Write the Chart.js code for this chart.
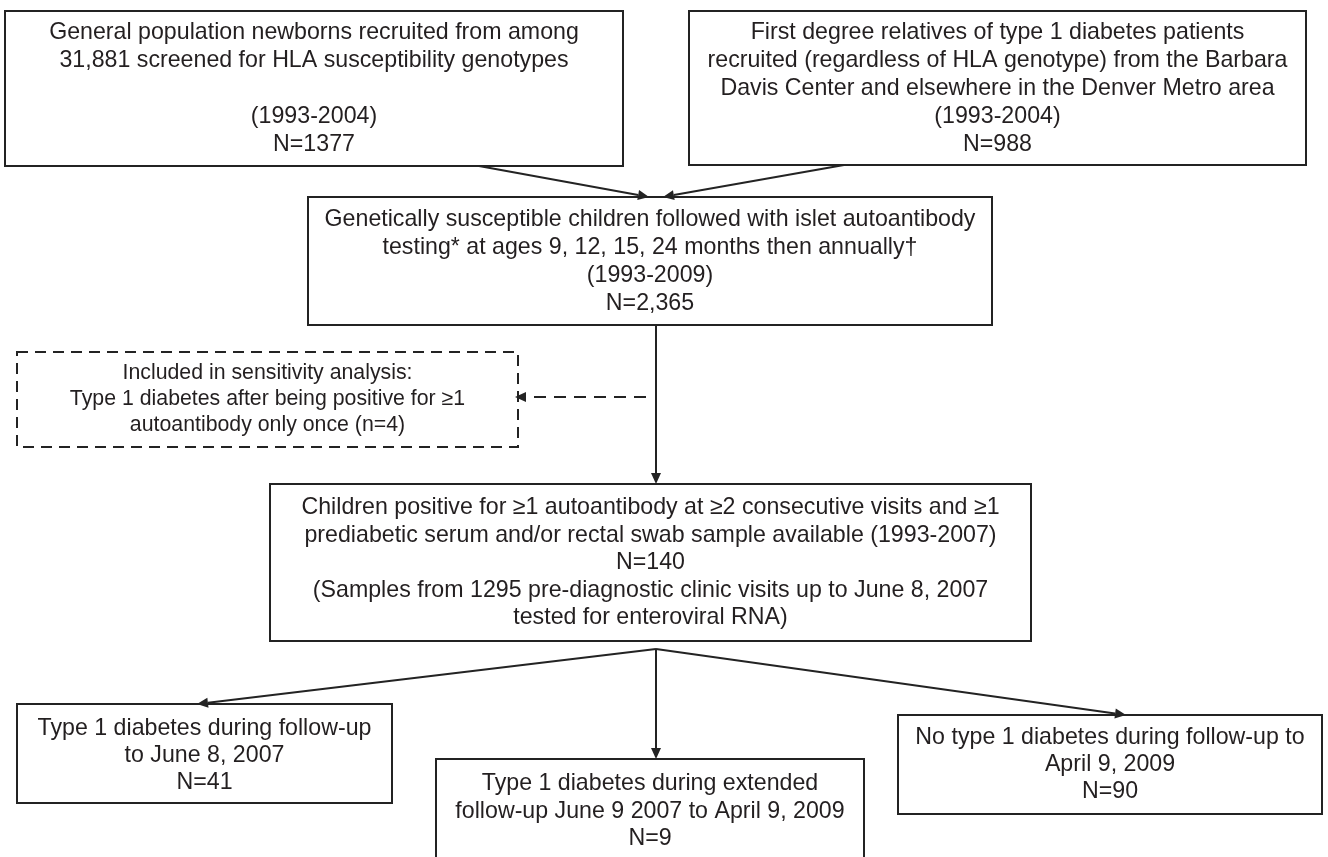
<!DOCTYPE html>
<html>
<head>
<meta charset="utf-8">
<script src="https://cdn.jsdelivr.net/npm/chart.js@4.4.1/dist/chart.umd.min.js"></script>
<style>
  html, body { margin: 0; padding: 0; background: #ffffff; }
  #wrap { width: 1328px; height: 857px; position: relative; }
</style>
</head>
<body>
<div id="wrap"><canvas id="c" width="1328" height="857"></canvas></div>
<script>
// ---- DATA ----
const nodeIds = ['general', 'relatives', 'followed', 'sensitivity', 'positive', 't1d', 't1dExtended', 'noT1d'];
const counts = [1377, 988, 2365, 4, 140, 41, 9, 90];
const countUsesComma = [false, false, true, false, false, false, false, false];

const textGeneral = ['General population newborns recruited from among', '31,881 screened for HLA susceptibility genotypes', '', '(1993-2004)', 'N={n}'];
const textRelatives = ['First degree relatives of type 1 diabetes patients', 'recruited (regardless of HLA genotype) from the Barbara', 'Davis Center and elsewhere in the Denver Metro area', '(1993-2004)', 'N={n}'];
const textFollowed = ['Genetically susceptible children followed with islet autoantibody', 'testing* at ages 9, 12, 15, 24 months then annually\u2020', '(1993-2009)', 'N={n}'];
const textSensitivity = ['Included in sensitivity analysis:', 'Type 1 diabetes after being positive for \u22651', 'autoantibody only once (n={n})'];
const textPositive = ['Children positive for \u22651 autoantibody at \u22652 consecutive visits and \u22651', 'prediabetic serum and/or rectal swab sample available (1993-2007)', 'N={n}', '(Samples from 1295 pre-diagnostic clinic visits up to June 8, 2007', 'tested for enteroviral RNA)'];
const textT1d = ['Type 1 diabetes during follow-up', 'to June 8, 2007', 'N={n}'];
const textT1dExtended = ['Type 1 diabetes during extended', 'follow-up June 9 2007 to April 9, 2009', 'N={n}'];
const textNoT1d = ['No type 1 diabetes during follow-up to', 'April 9, 2009', 'N={n}'];
const nodeTexts = [textGeneral, textRelatives, textFollowed, textSensitivity, textPositive, textT1d, textT1dExtended, textNoT1d];

// flow edges: [from, to]
const edgeFrom = ['general', 'relatives', 'followed', 'followed', 'positive', 'positive', 'positive'];
const edgeTo = ['followed', 'followed', 'positive', 'sensitivity', 't1d', 't1dExtended', 'noT1d'];

// ---- LAYOUT (in scale units; x 0..1328, y 0..857 top-down) ----
const boxLayout = {
  general:     { x0: 5,   y0: 11,  x1: 623,  y1: 166, first: 33,  step: 28,   font: 23.2, dashed: false },
  relatives:   { x0: 689, y0: 11,  x1: 1306, y1: 165, first: 33,  step: 28,   font: 23.2, dashed: false },
  followed:    { x0: 308, y0: 197, x1: 992,  y1: 325, first: 220, step: 28,   font: 23.2, dashed: false },
  sensitivity: { x0: 17,  y0: 352, x1: 518,  y1: 447, first: 373, step: 26,   font: 21.3, dashed: true },
  positive:    { x0: 270, y0: 484, x1: 1031, y1: 641, first: 508, step: 27.5, font: 23.2, dashed: false },
  t1d:         { x0: 17,  y0: 704, x1: 392,  y1: 803, first: 729, step: 27,   font: 23.2, dashed: false },
  t1dExtended: { x0: 436, y0: 759, x1: 864,  y1: 880, first: 784, step: 27.5, font: 23.2, dashed: false },
  noT1d:       { x0: 898, y0: 715, x1: 1322, y1: 814, first: 738, step: 27,   font: 23.2, dashed: false }
};
const edgeLayout = [
  { pts: [[479, 166], [649, 197]], dashed: false },
  { pts: [[844, 165], [663, 197]], dashed: false },
  { pts: [[656, 325], [656, 484]], dashed: false },
  { pts: [[646, 397], [515, 397]], dashed: true },
  { pts: [[656, 649], [197, 704]], dashed: false },
  { pts: [[656, 649], [656, 759]], dashed: false },
  { pts: [[656, 649], [1126, 715]], dashed: false }
];

const LINE = '#232323';
const TEXT = '#231f20';

function fmt(i) {
  return countUsesComma[i] ? counts[i].toLocaleString('en-US') : String(counts[i]);
}

const flowPlugin = {
  id: 'flow',
  beforeDraw(chart) {
    const ctx = chart.ctx;
    ctx.save();
    ctx.fillStyle = '#ffffff';
    ctx.fillRect(0, 0, chart.width, chart.height);
    ctx.restore();
  },
  afterDraw(chart) {
    const ctx = chart.ctx;
    const xs = chart.scales.x, ys = chart.scales.y;
    const px = v => xs.getPixelForValue(v);
    const py = v => ys.getPixelForValue(v);

    // boxes
    nodeIds.forEach((id, i) => {
      const b = boxLayout[id];
      const x0 = px(b.x0), x1 = px(b.x1), y0 = py(b.y0), y1 = py(b.y1);
      ctx.save();
      ctx.fillStyle = '#ffffff';
      ctx.fillRect(x0, y0, x1 - x0, y1 - y0);
      ctx.strokeStyle = LINE;
      ctx.lineWidth = 2;
      if (b.dashed) ctx.setLineDash([11, 7]);
      ctx.strokeRect(x0, y0, x1 - x0, y1 - y0);
      ctx.setLineDash([]);
      ctx.fillStyle = TEXT;
      ctx.font = b.font + 'px "Liberation Sans", Arial, sans-serif';
      ctx.textAlign = 'center';
      ctx.textBaseline = 'middle';
      const cx = (x0 + x1) / 2;
      nodeTexts[i].forEach((line, k) => {
        if (!line) return;
        ctx.fillText(line.replace('{n}', fmt(i)), cx, py(b.first + k * b.step));
      });
      ctx.restore();
    });

    // edges with arrowheads
    edgeLayout.forEach((e) => {
      const [a, b] = e.pts;
      const ax = px(a[0]), ay = py(a[1]), bx = px(b[0]), by = py(b[1]);
      const ang = Math.atan2(by - ay, bx - ax);
      const L = 11, W = 5;
      const ex = bx - Math.cos(ang) * L, ey = by - Math.sin(ang) * L;
      ctx.save();
      ctx.strokeStyle = LINE;
      ctx.lineWidth = 2;
      if (e.dashed) ctx.setLineDash([12, 8]);
      ctx.beginPath();
      ctx.moveTo(ax, ay);
      ctx.lineTo(ex, ey);
      ctx.stroke();
      ctx.setLineDash([]);
      ctx.fillStyle = LINE;
      ctx.beginPath();
      ctx.moveTo(bx, by);
      ctx.lineTo(ex + Math.sin(ang) * W, ey - Math.cos(ang) * W);
      ctx.lineTo(ex - Math.sin(ang) * W, ey + Math.cos(ang) * W);
      ctx.closePath();
      ctx.fill();
      ctx.restore();
    });
  }
};

const nodePoints = nodeIds.map(id => {
  const b = boxLayout[id];
  return { x: (b.x0 + b.x1) / 2, y: (b.y0 + b.y1) / 2 };
});

new Chart(document.getElementById('c'), {
  type: 'scatter',
  data: {
    datasets: [{
      label: 'nodes',
      data: nodePoints,
      pointRadius: 0,
      pointHoverRadius: 0,
      showLine: false
    }]
  },
  options: {
    responsive: false,
    animation: false,
    events: [],
    layout: { padding: 0 },
    plugins: { legend: { display: false }, tooltip: { enabled: false }, title: { display: false } },
    scales: {
      x: { type: 'linear', display: false, min: 0, max: 1328 },
      y: { type: 'linear', display: false, min: 0, max: 857, reverse: true }
    }
  },
  plugins: [flowPlugin]
});
</script>
</body>
</html>
